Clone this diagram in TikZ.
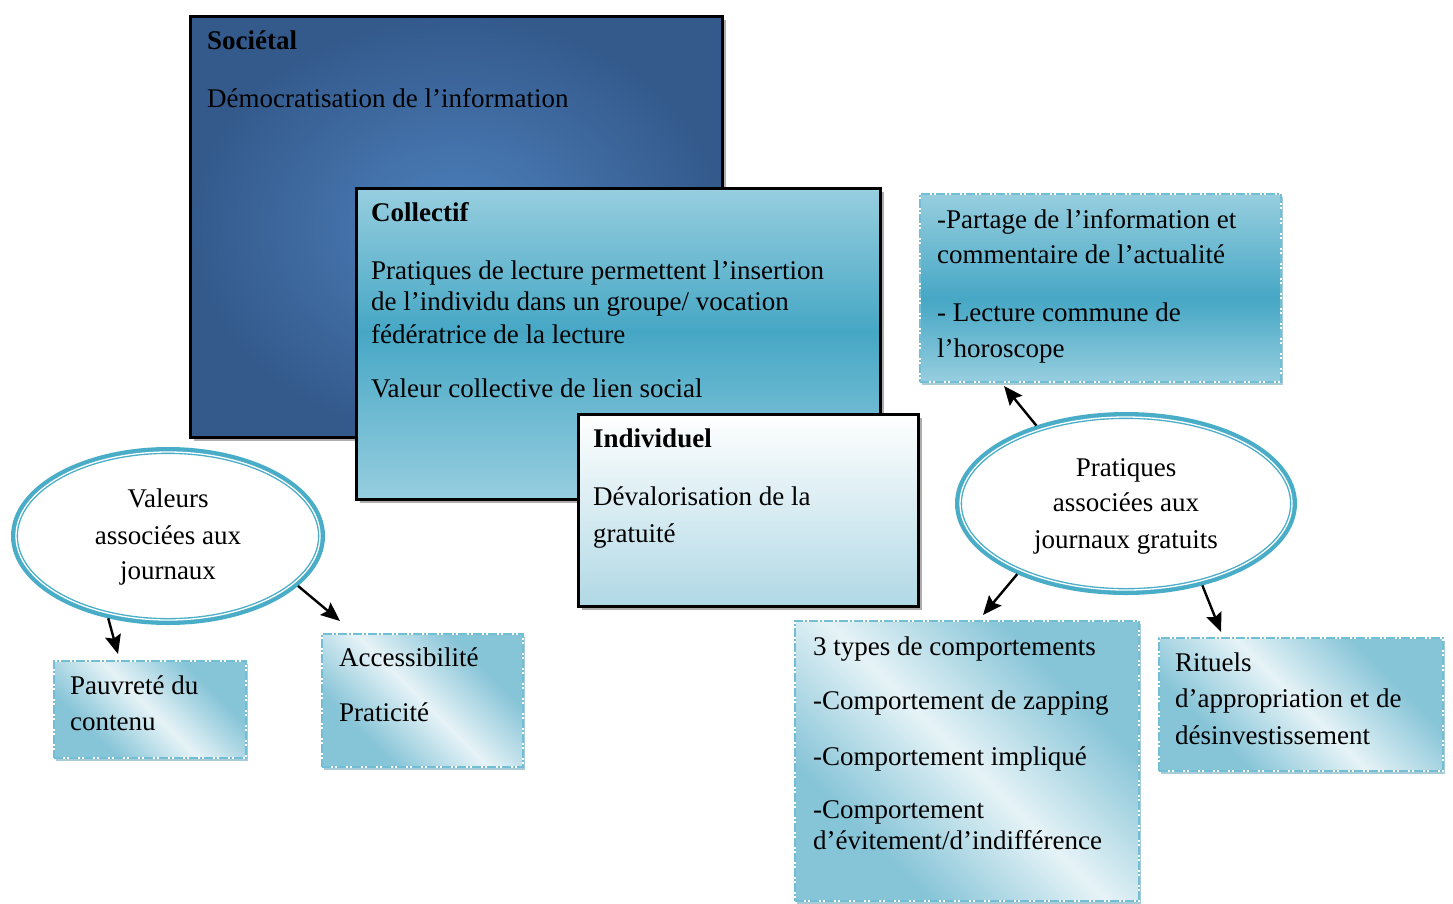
\documentclass[tikz,border=0pt]{standalone}
\usepackage{fontspec}
\setmainfont{Liberation Serif}
\usetikzlibrary{shapes.geometric,arrows.meta,shadows}
\definecolor{socout}{HTML}{345A8C}
\definecolor{socin}{HTML}{4D80BC}
\definecolor{colL}{HTML}{97CEDF}
\definecolor{colM}{HTML}{46A7C5}
\definecolor{indB}{HTML}{B0D8E5}
\definecolor{dd}{HTML}{86C4D7}
\definecolor{dl}{HTML}{E6F3F7}
\definecolor{ellc}{HTML}{4AADC8}
\definecolor{dashc}{HTML}{72BED4}
\definecolor{shc}{HTML}{3D8DA6}
\pgfdeclareverticalshading{colshade}{100bp}{color(0bp)=(colL); color(25bp)=(colL); color(52bp)=(colM); color(75bp)=(colL); color(100bp)=(colL)}
\pgfdeclareverticalshading{parshade}{100bp}{color(0bp)=(colL); color(25bp)=(colL); color(47bp)=(colM); color(75bp)=(colL); color(100bp)=(colL)}
\pgfdeclareverticalshading{diagshade}{100bp}{color(0bp)=(dd); color(30bp)=(dd); color(50bp)=(dl); color(70bp)=(dd); color(100bp)=(dd)}
\begin{document}
\begin{tikzpicture}[x=1pt,y=-1pt,
  bigbox/.style={draw=black, line width=3pt, inner sep=0pt, anchor=north west,
    drop shadow={shadow xshift=3pt, shadow yshift=-3pt, fill=gray!80, opacity=0.8}},
  dbox/.style={draw=white, line width=2.2pt, inner sep=0pt, anchor=north west, shade, shading=diagshade, shading angle=-45,
    drop shadow={shadow xshift=2pt, shadow yshift=-3pt, fill=shc, opacity=0.45},
    postaction={draw=dashc, line width=2.2pt, dash pattern=on 9pt off 2pt on 2pt off 2pt}},
  ell/.style={ellipse, draw=ellc, line width=7pt, fill=white, inner sep=0pt},
  txt/.style={font=\fontsize{27}{32}\selectfont, inner sep=0pt, anchor=base west},
  ctxt/.style={font=\fontsize{27}{32}\selectfont, inner sep=0pt, anchor=base},
  arr/.style={draw=black, line width=2.4pt, -{Stealth[length=19pt, width=16pt, inset=3pt]}}
]
\useasboundingbox (0,0) rectangle (1453,903);

% big boxes
\node[bigbox, minimum width=532pt, minimum height=421pt, inner color=socin, outer color=socout] (soc) at (189,15) {};
\node[bigbox, minimum width=524pt, minimum height=311pt, shade, shading=colshade] (col) at (355,187) {};
\node[bigbox, minimum width=340pt, minimum height=192pt, top color=white, bottom color=indB] (ind) at (577,413) {};

% dashed boxes
\node[dbox, minimum width=361pt, minimum height=188pt, shading=parshade, shading angle=0] (par) at (919,193) {};
\node[dbox, minimum width=192pt, minimum height=97pt] (pauv) at (53,660) {};
\node[dbox, minimum width=201pt, minimum height=133pt] (acc) at (321,633) {};
\node[dbox, minimum width=344pt, minimum height=280pt] (typ) at (794,620) {};
\node[dbox, minimum width=284pt, minimum height=133pt] (rit) at (1158,637) {};

% ellipses
\node[ell, minimum width=307pt, minimum height=171pt] (val) at (168,536) {};
\draw[white, line width=1.3pt] (val.center) ellipse [x radius=152, y radius=84];
\node[ell, minimum width=335pt, minimum height=176pt] (pra) at (1126,503.5) {};
\draw[white, line width=1.3pt] (pra.center) ellipse [x radius=166, y radius=86.5];

% texts
\node[txt] (s1) at (207,49) {\textbf{Sociétal}};
\node[txt] (s2) at (207,107) {Démocratisation de l’information};

\node[txt] (c1) at (371,221) {\textbf{Collectif}};
\node[txt] (c2) at (371,279) {Pratiques de lecture permettent l’insertion};
\node[txt] (c3) at (371,310) {de l’individu dans un groupe/ vocation};
\node[txt] (c4) at (371,343) {fédératrice de la lecture};
\node[txt] (c5) at (371,397) {Valeur collective de lien social};

\node[txt] (i1) at (593,447) {\textbf{Individuel}};
\node[txt] (i2) at (593,505) {Dévalorisation de la};
\node[txt] (i3) at (593,542) {gratuité};

\node[txt] (p1) at (937,228) {-Partage de l’information et};
\node[txt] (p2) at (937,263) {commentaire de l’actualité};
\node[txt] (p3) at (937,321) {- Lecture commune de};
\node[txt] (p4) at (937,357) {l’horoscope};

\node[ctxt] (v1) at (168,507) {Valeurs};
\node[ctxt] (v2) at (168,544) {associées aux};
\node[ctxt] (v3) at (168,579) {journaux};

\node[ctxt] (q1) at (1126,476) {Pratiques};
\node[ctxt] (q2) at (1126,511) {associées aux};
\node[ctxt] (q3) at (1126,548) {journaux gratuits};

\node[txt] (a1) at (70,694) {Pauvreté du};
\node[txt] (a2) at (70,730) {contenu};

\node[txt] (b1) at (339,666) {Accessibilité};
\node[txt] (b2) at (339,721) {Praticité};

\node[txt] (t1) at (813,655) {3 types de comportements};
\node[txt] (t2) at (813,709) {-Comportement de zapping};
\node[txt] (t3) at (813,765) {-Comportement impliqué};
\node[txt] (t4) at (813,818) {-Comportement};
\node[txt] (t5) at (813,849) {d’évitement/d’indifférence};

\node[txt] (r1) at (1175,671) {Rituels};
\node[txt] (r2) at (1175,707) {d’appropriation et de};
\node[txt] (r3) at (1175,744) {désinvestissement};

% arrows
\coordinate (e1) at (118,654);
\coordinate (e2) at (340,621);
\coordinate (e3) at (1004,386);
\coordinate (e4) at (983,615);
\coordinate (e5) at (1221,632);
\draw[arr] (val.234) -- (e1);
\draw[arr] (val.-21) -- (e2);
\draw[arr] (pra.139) -- (e3);
\draw[arr] (pra.213) -- (e4);
\draw[arr] (pra.313) -- (e5);
\end{tikzpicture}
\end{document}
